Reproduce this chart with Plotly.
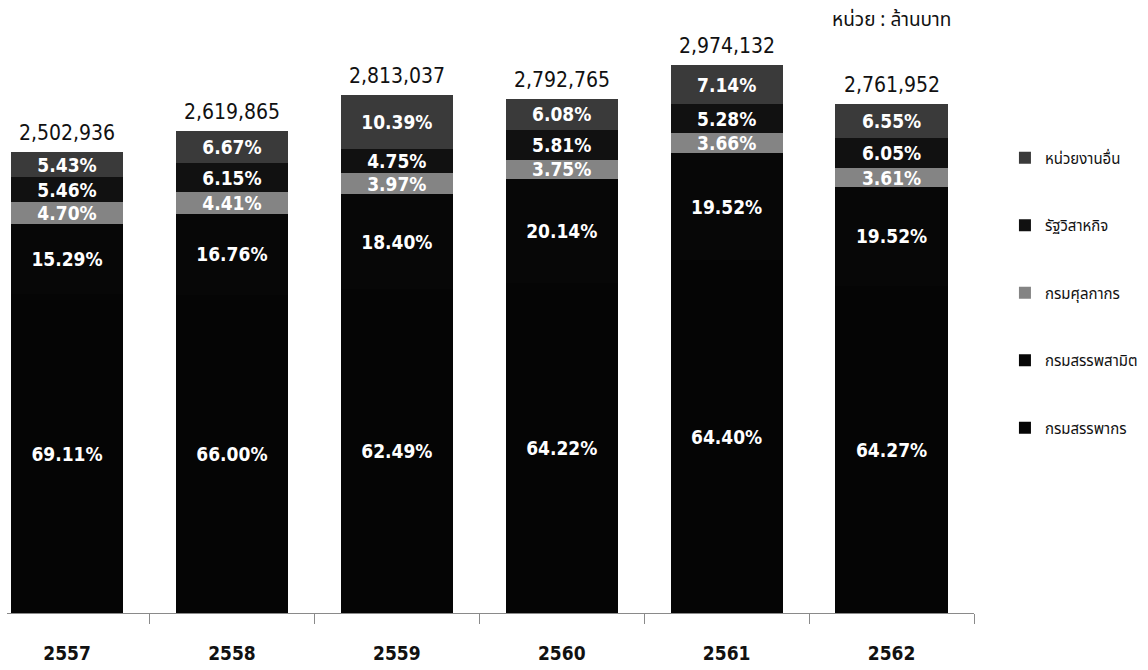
import plotly.graph_objects as go

# Fiscal years (Buddhist Era) and total revenue collected, million baht
years = ["2557", "2558", "2559", "2560", "2561", "2562"]
totals = [2502936, 2619865, 2813037, 2792765, 2974132, 2761952]

# Share of total revenue by collecting agency, percent
sources = ["กรมสรรพากร", "กรมสรรพสามิต", "กรมศุลกากร", "รัฐวิสาหกิจ", "หน่วยงานอื่น"]
pct_revenue_dept = [69.11, 66.00, 62.49, 64.22, 64.40, 64.27]
pct_excise_dept = [15.29, 16.76, 18.40, 20.14, 19.52, 19.52]
pct_customs_dept = [4.70, 4.41, 3.97, 3.75, 3.66, 3.61]
pct_state_enterprise = [5.46, 6.15, 4.75, 5.81, 5.28, 6.05]
pct_other_agencies = [5.43, 6.67, 10.39, 6.08, 7.14, 6.55]

shares = [pct_revenue_dept, pct_excise_dept, pct_customs_dept,
          pct_state_enterprise, pct_other_agencies]
colors = ["#050505", "#070707", "#848484", "#111111", "#3a3a3a"]

NUM_FONT = "DejaVu Sans Condensed, DejaVu Sans, sans-serif"
THAI_FONT = "Noto Sans Thai, Tahoma, DejaVu Sans, sans-serif"

fig = go.Figure()
n = len(sources)
for k, (name, pct, color) in enumerate(zip(sources, shares, colors)):
    fig.add_trace(go.Bar(
        x=years,
        y=[t * p / 100 for t, p in zip(totals, pct)],
        name=name,
        legendgroup=name,
        legendrank=n - k,
        marker=dict(color=color, line=dict(width=0)),
        text=[f"{p:.2f}%" for p in pct],
        textposition="inside",
        insidetextanchor="middle",
        textangle=0,
        textfont=dict(family=NUM_FONT, size=19, color="white", weight="bold"),
        hoverinfo="skip",
    ))

# Total above each bar
for i, tot in enumerate(totals):
    fig.add_annotation(
        x=i, y=tot, xref="x", yref="y",
        text=f"{tot:,}", showarrow=False,
        yanchor="bottom", yshift=5,
        font=dict(family=NUM_FONT, size=21, color="#111111"),
    )

# Unit note
fig.add_annotation(
    x=0.915, y=1.0, xref="paper", yref="paper",
    text="หน่วย : ล้านบาท", showarrow=False,
    xanchor="center", yanchor="middle",
    font=dict(family=THAI_FONT, size=19, color="#111111"),
)

fig.update_layout(
    width=1148, height=670,
    margin=dict(l=7, r=174, t=20, b=57, autoexpand=False),
    paper_bgcolor="white", plot_bgcolor="white",
    barmode="stack", bargap=0.32,
    uniformtext=dict(mode="show", minsize=19),
    showlegend=True,
    legend=dict(
        x=1.032, y=0.795, xanchor="left", yanchor="top",
        traceorder="grouped", tracegroupgap=45,
        font=dict(family=THAI_FONT, size=15, color="#111111"),
        itemwidth=30,
    ),
    xaxis=dict(
        type="category", range=[-0.364, 5.5],
        showline=True, linecolor="#8a8a8a", linewidth=1,
        ticks="outside", tickson="boundaries", ticklen=10,
        tickcolor="#8a8a8a", tickwidth=1,
        ticklabelstandoff=23,
        tickfont=dict(family=NUM_FONT, size=19, color="#111111", weight="bold"),
        showgrid=False, zeroline=False,
    ),
    yaxis=dict(range=[0, 3.22e6], visible=False, showgrid=False, zeroline=False),
)

fig.write_html("out.html")
